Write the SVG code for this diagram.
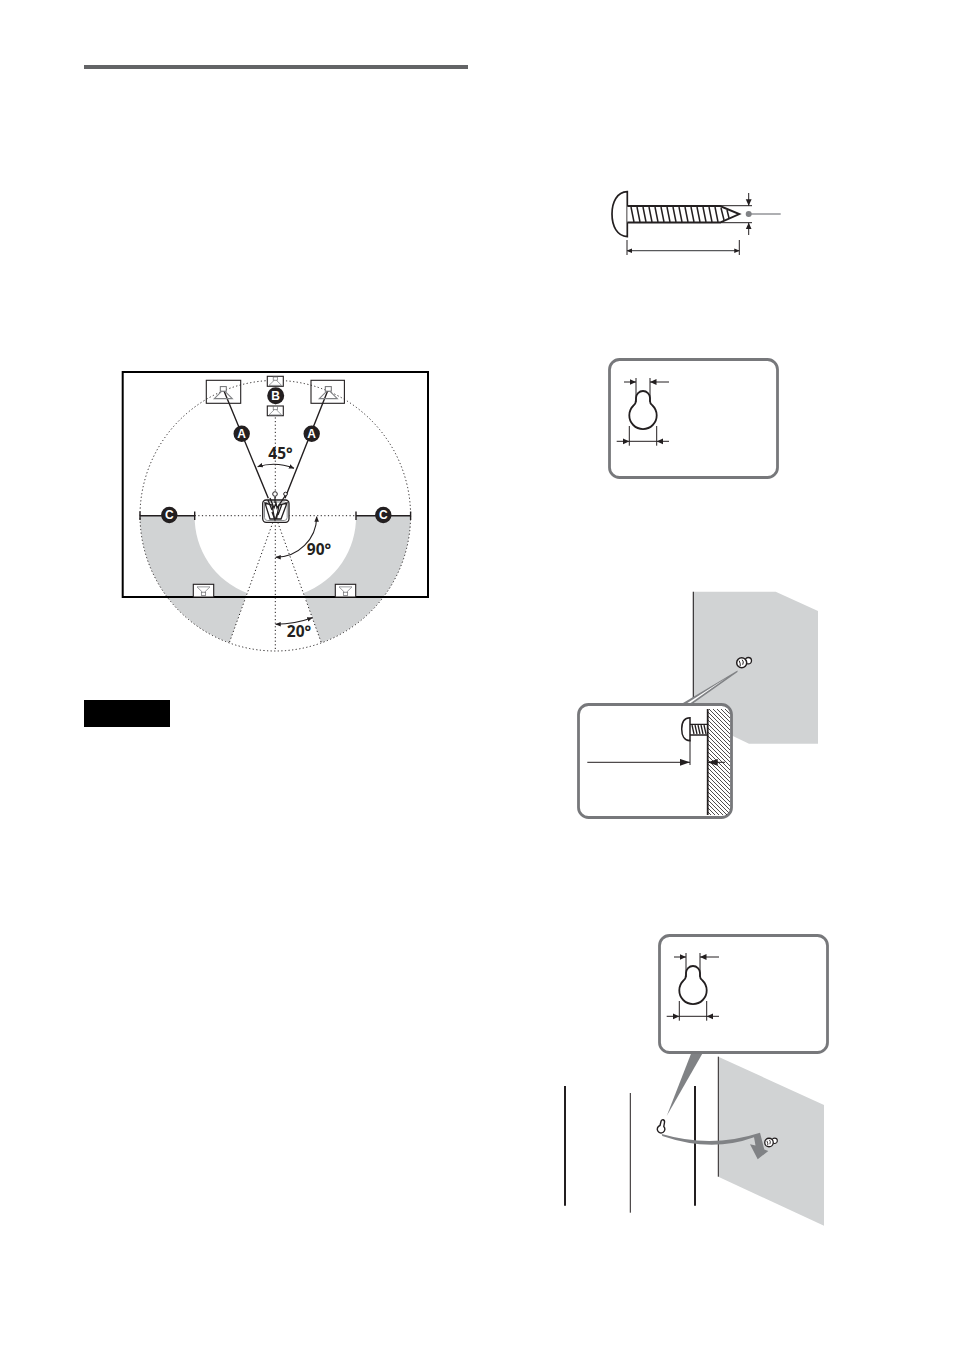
<svg xmlns="http://www.w3.org/2000/svg" xmlns:xlink="http://www.w3.org/1999/xlink" width="954" height="1351" viewBox="0 0 954 1351">
<style>
.ln{fill:none;stroke:#231f20;stroke-width:1}
.med{fill:none;stroke:#231f20;stroke-width:1.400}
.dot{fill:none;stroke:#231f20;stroke-width:1;stroke-dasharray:1.200 2.400}
.gray{fill:#d1d3d4}
.box{fill:#fff;stroke:#77787b;stroke-width:2.800}
.deg{font-family:"Open Sans","Liberation Sans",sans-serif;font-weight:700;font-size:15.500px;fill:#231f20;text-anchor:middle}
.let{font-family:"Liberation Sans",sans-serif;font-weight:700;font-size:12px;fill:#fff;text-anchor:middle}
.bdg{fill:#231f20}
.cone{fill:none;stroke:#808285;stroke-width:1.100}
.arc{fill:none;stroke:#231f20;stroke-width:1.100;marker-start:url(#a1);marker-end:url(#a1)}
.dim{fill:none;stroke:#231f20;stroke-width:1;marker-end:url(#a2)}
.key{fill:#fff;stroke:#231f20;stroke-width:1.800}
</style>
<defs>
<marker id="a1" viewBox="0 0 6 6" refX="5.500" refY="3" markerWidth="5.500" markerHeight="5.500" markerUnits="userSpaceOnUse" orient="auto-start-reverse"><path d="M0 .5L6 3L0 5.500z" fill="#231f20"/></marker>
<marker id="a2" viewBox="0 0 6 6" refX="6" refY="3" markerWidth="6.500" markerHeight="6.500" markerUnits="userSpaceOnUse" orient="auto"><path d="M0 .3L6 3L0 5.700z" fill="#231f20"/></marker>
<marker id="a3" viewBox="0 0 8 6" refX="8" refY="3" markerWidth="10" markerHeight="7.500" markerUnits="userSpaceOnUse" orient="auto"><path d="M0 .3L8 3L0 5.700z" fill="#231f20"/></marker>
<pattern id="hatch" width="4" height="4" patternUnits="userSpaceOnUse"><path d="M-1 -1L5 5M-1 3L1 5M3 -1L5 1" stroke="#231f20" stroke-width=".8"/></pattern>
<g id="speaker"><rect x="-3" y="0" width="6" height="4.600" fill="#fff" stroke="#6d6e71" stroke-width="1"/><path class="cone" d="M-1.500 4.600L-9 12H9L1.500 4.600"/></g>
<g id="keyhole">
<path class="key" d="M636 399.500V398A7 7 0 0 1 650 398V401C650 404 651 404.500 652.500 405.500A13.700 13.700 0 1 1 633.500 405.500C635 404.500 636 403 636 399.500Z"/>
<path class="ln" d="M636 378V402M650 378V402M629.300 426V445.700M656.700 426V445.700"/>
<path class="dim" d="M624 382H636"/><path class="dim" d="M669 382H650"/>
<path class="dim" d="M616.700 441.300H629.300"/><path class="dim" d="M669 441.300H656.700"/>
<path class="ln" d="M629.300 441.300H656.700"/>
</g>
<g id="smallscrew"><circle cx="6.600" cy="-2" r="3.200" fill="#fff" stroke="#231f20" stroke-width="1.300"/><circle cx="0" cy="0" r="5" fill="#fff" stroke="#231f20" stroke-width="1.500"/><path d="M-2.500 -2Q-1 1 -1.500 3.500M0.500 -3Q2.500 -1 1 2" fill="none" stroke="#231f20" stroke-width="1"/></g>
</defs>
<rect width="954" height="1351" fill="#fff"/>
<rect id="top-rule" x="84" y="65" width="384" height="4" fill="#636466"/>

<g id="layout-diagram">
<path class="gray" d="M140 515.700H194.700A81 81 0 0 0 247 593L229.300 642.700A135.300 135.300 0 0 1 140 515.700Z"/>
<path class="gray" d="M410.600 515.700H356A81 81 0 0 1 303.600 593L321.300 642.700A135.300 135.300 0 0 0 410.600 515.700Z"/>
<circle class="dot" cx="275.300" cy="515.700" r="135.300"/>
<path class="dot" d="M275.300 385V651M194.700 515.700H356M275.300 515.700L229.300 642.700M275.300 515.700L321.300 642.700"/>
<rect x="122.700" y="372" width="305.300" height="225" fill="none" stroke="#000" stroke-width="2"/>
<g id="conn-angles">
<path class="arc" d="M257.700 466.700Q275.700 461 294 468.300"/>
<path class="arc" d="M316.700 516.700A41 41 0 0 1 275.700 557.300"/>
<path class="arc" d="M275.700 624.300Q295 624 312.300 617.700"/>
</g>
<g id="conn-a">
<path class="med" d="M223.300 389.300L268.300 498.300M328.300 389.300L285 498.300"/>
<path class="med" d="M140 515.700H194.700M356 515.700H410.600M140 511.500V520M194.700 511.500V520M356 511.500V520M410.600 511.500V520"/>
</g>
<g id="spk-front-left"><rect x="206.300" y="380.300" width="34.400" height="23" fill="none" stroke="#231f20" stroke-width="1.100"/><use xlink:href="#speaker" href="#speaker" transform="translate(223.300 386.600)"/></g>
<g id="spk-front-right"><rect x="311" y="380.300" width="33.400" height="23" fill="none" stroke="#231f20" stroke-width="1.100"/><use xlink:href="#speaker" href="#speaker" transform="translate(328.300 386.600)"/></g>
<g id="spk-center-top"><rect x="267.300" y="376.300" width="16" height="10" fill="#fff" stroke="#231f20" stroke-width="1.100"/><use xlink:href="#speaker" href="#speaker" transform="translate(275.300 377) scale(.7)"/></g>
<g id="spk-center-bottom"><rect x="267.300" y="406" width="16" height="9.700" fill="#fff" stroke="#231f20" stroke-width="1.100"/><use xlink:href="#speaker" href="#speaker" transform="translate(275.300 406.500) scale(.7)"/></g>
<g id="spk-rear-left"><rect x="193.300" y="584.300" width="20.400" height="12.700" fill="#fff" stroke="#231f20" stroke-width="1.100"/><use xlink:href="#speaker" href="#speaker" transform="translate(203.500 595.500) scale(.72 -.72)"/></g>
<g id="spk-rear-right"><rect x="335.300" y="584.300" width="20.400" height="12.700" fill="#fff" stroke="#231f20" stroke-width="1.100"/><use xlink:href="#speaker" href="#speaker" transform="translate(345.500 595.500) scale(.72 -.72)"/></g>
<g id="listener">
<rect x="262.700" y="500" width="26.300" height="22.300" rx="3.500" fill="#fff" stroke="#231f20" stroke-width="1.300"/>
<rect x="264.500" y="502" width="22.700" height="18.500" rx="3" fill="none" stroke="#808285" stroke-width=".9"/>
<path d="M265 503L270 519H274.500L272 505Z" fill="#fff" stroke="#231f20" stroke-width="1.300"/>
<path d="M287 503L281 519H276.500L279 505Z" fill="#fff" stroke="#231f20" stroke-width="1.300"/>
<path d="M270 498L274 508L276 503L277 508L287 493M275 497V503M268 500L272 510M282 504L278 515M272 512L275 520L278 512" fill="none" stroke="#231f20" stroke-width="1.300"/>
<circle cx="275" cy="494" r="2.300" fill="#fff" stroke="#231f20" stroke-width="1"/>
<circle cx="285.500" cy="494" r="1.800" fill="#fff" stroke="#231f20" stroke-width="1"/>
</g>
<g id="badge-a1"><circle class="bdg" cx="241.700" cy="433.700" r="8.200"/><text class="let" x="241.700" y="438">A</text></g>
<g id="badge-a2"><circle class="bdg" cx="311.700" cy="433.700" r="8.200"/><text class="let" x="311.700" y="438">A</text></g>
<g id="badge-b"><circle class="bdg" cx="275.700" cy="395.700" r="8.500"/><text class="let" x="275.700" y="400">B</text></g>
<g id="badge-c1"><circle class="bdg" cx="169.300" cy="515" r="8.200"/><text class="let" x="169.300" y="519.300">C</text></g>
<g id="badge-c2"><circle class="bdg" cx="383.300" cy="515" r="8.200"/><text class="let" x="383.300" y="519.300">C</text></g>
<text class="deg" x="280.500" y="459">45°</text>
<text class="deg" x="319" y="554.500">90°</text>
<text class="deg" x="299" y="637">20°</text>
</g>

<rect id="note-tag" x="84" y="700" width="86" height="27" fill="#000"/>

<g id="screw-diagram">
<path d="M627.300 191.700V236.700C617 236 612 226 612 214C612 202 617 192 627.300 191.700Z" fill="#fff" stroke="#231f20" stroke-width="1.700"/>
<path d="M627.300 206H720L739.300 214L720 222.500H627.300" fill="#fff" stroke="#231f20" stroke-width="1.900"/>
<path stroke="#231f20" stroke-width="1.500" fill="none" d="M631 207L634 222M637 207L640 222M643 207L646 222M649 207L652 222M655 207L658 222M661 207L664 222M667 207L670 222M673 207L676 222M679 207L682 222M685 207L688 222M691 207L694 222M697 207L700 222M703 207L706 222M709 207L712 222M715 207L718 222M721 208L724 220M727 210L729 218"/>
<path class="ln" d="M720 205.700H752M720 222.700H752"/>
<path class="dim" d="M748.700 193V205.700"/><path class="dim" d="M748.700 235V222.700"/>
<path d="M748.700 214H780.700" stroke="#939598" stroke-width="1.400"/>
<circle cx="748.700" cy="214" r="3" fill="#808285"/>
<path class="ln" d="M627 240V255M739.300 240V255"/>
<path d="M627 250.700H739.300" fill="none" stroke="#58595b" stroke-width="1.200" marker-start="url(#a1)" marker-end="url(#a1)"/>
</g>

<g id="keyhole-box-1">
<rect class="box" x="609.500" y="359.500" width="168" height="118" rx="10"/>
<use xlink:href="#keyhole" href="#keyhole"/>
</g>

<g id="wall-mount">
<path class="gray" d="M693.300 591.700H775.700L818 611V743.700H749L693.300 717Z"/>
<path d="M693.300 591.700V704" stroke="#231f20" stroke-width="1.100" fill="none"/>
<use xlink:href="#smallscrew" href="#smallscrew" transform="translate(741.700 662.700)"/>
<path d="M737.500 670.500L680.500 704.500H691.500L737.500 672Z" fill="#808285"/>
<path d="M727 677.500L685 704.500H688.500Z" fill="#fff"/>
<rect class="box" x="578.500" y="704.500" width="153" height="113" rx="10"/>
<path d="M707.700 709H729Q730 712 730 716V806Q730 812 727 815H707.700Z" fill="url(#hatch)"/>
<path d="M707.700 709V815" stroke="#231f20" stroke-width="1.800" fill="none"/>
<path d="M690 717.700V740.700C684 740.700 681.700 735 681.700 729C681.700 723 684 717.700 690 717.700Z" fill="#fff" stroke="#231f20" stroke-width="1.500"/>
<path d="M690 724.300H707.700M690 735H707.700" stroke="#231f20" stroke-width="1.300"/>
<path d="M692 725L694 734M695 725L697 734M698 725L700 734M701 725L703 734M704 725L706 734" stroke="#231f20" stroke-width="1.300"/>
<path class="ln" d="M690 740V765"/>
<path d="M587.300 762.300H690" fill="none" stroke="#231f20" stroke-width="1" marker-end="url(#a3)"/>
<path d="M725 762.300H707.700" fill="none" stroke="#231f20" stroke-width="1" marker-end="url(#a3)"/>
</g>

<g id="hang-diagram">
<path d="M565 1086V1205.700M695 1086V1205.700" stroke="#231f20" stroke-width="2" fill="none"/>
<path d="M630.300 1093V1212.700" stroke="#231f20" stroke-width="1" fill="none"/>
<path class="gray" d="M718.300 1056.700L824 1105V1225.700L718.300 1176.700Z"/>
<path d="M718.300 1056.700V1176.700" stroke="#231f20" stroke-width="1" fill="none"/>
<path d="M691.700 1052H703.300L666.700 1116Z" fill="#808285"/>
<rect class="box" x="659.500" y="935.500" width="168" height="117" rx="10"/>
<use xlink:href="#keyhole" href="#keyhole" transform="translate(50 575)"/>
<path d="M661.700 1134Q711.700 1148.500 760 1132.700L764.300 1149.500L768.300 1151L757.700 1159.300L750 1144.300L755.500 1145.500L754 1137.300Q711.700 1152.900 662.300 1136Z" fill="#808285"/>
<path d="M660 1125.500L661 1121.500C661.700 1118.500 665 1119.500 664.500 1122.500L663.800 1126.500A3.800 3.800 0 1 1 660 1125.500Z" fill="#fff" stroke="#231f20" stroke-width="1.400"/>
<use xlink:href="#smallscrew" href="#smallscrew" transform="translate(769 1142.500) scale(.85)"/>
</g>
</svg>
